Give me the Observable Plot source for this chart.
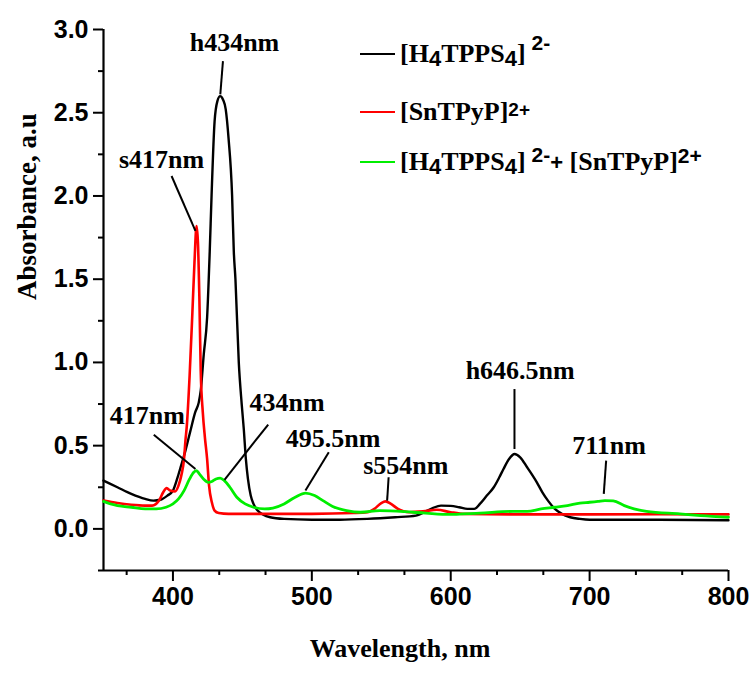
<!DOCTYPE html>
<html>
<head>
<meta charset="utf-8">
<script src="https://cdn.jsdelivr.net/npm/d3@7"></script>
<script src="https://cdn.jsdelivr.net/npm/@observablehq/plot@0.6"></script>
<style>
  html, body { margin: 0; padding: 0; background: #fff; }
  #chart { width: 753px; height: 675px; }
</style>
</head>
<body>
<div id="chart"></div>
<script>
// ---- Data ----
const seriesNames = ["[H4TPPS4]2-", "[SnTPyP]2+", "[H4TPPS4]2- + [SnTPyP]2+"];
const seriesColors = ["#000000", "#ff0000", "#00ee00"];

// [H4TPPS4]2-  (wavelength nm, absorbance)
const blackWl = [350,360,370,380,386,391,396,400,403,405.5,409,412.6,416,418.6,420,422.2,424.6,426.5,427.8,430,432,434,436,438,440,442.6,443.8,445,447.4,449.5,451,452.5,454,456,458,461,465,470,480,500,520,540,560,575,581,587,593,600,606,612,617,621,626,631,635,638,642,646,650,655,659,662,666,670,675,680,686,693,700,720,750,800];
const blackA  = [0.29,0.25,0.21,0.18,0.17,0.175,0.20,0.23,0.30,0.37,0.47,0.59,0.70,0.76,0.83,1.05,1.27,1.67,2.00,2.45,2.57,2.60,2.58,2.52,2.35,2.00,1.67,1.50,1.00,0.75,0.60,0.42,0.30,0.20,0.15,0.11,0.085,0.07,0.06,0.055,0.055,0.06,0.07,0.08,0.10,0.125,0.14,0.138,0.13,0.12,0.12,0.15,0.20,0.25,0.31,0.36,0.42,0.45,0.43,0.37,0.32,0.28,0.22,0.17,0.12,0.09,0.07,0.06,0.055,0.055,0.055,0.052];

// [SnTPyP]2+
const redWl = [350,360,370,380,385,390,393,395.5,398,401.5,404,406,408,409,410,412,414,415.5,417,418,419,420,421.5,423,424.6,426,428,430,433,440,460,500,530,540,545,550,553,557,562,570,580,590,600,610,650,700,750,800];
const redA  = [0.17,0.155,0.145,0.14,0.14,0.17,0.22,0.245,0.23,0.225,0.26,0.32,0.42,0.53,0.62,0.92,1.30,1.60,1.82,1.72,1.40,0.95,0.70,0.55,0.42,0.26,0.16,0.11,0.095,0.09,0.09,0.09,0.095,0.10,0.12,0.155,0.165,0.15,0.12,0.10,0.105,0.115,0.10,0.09,0.087,0.087,0.088,0.087];

// [H4TPPS4]2- + [SnTPyP]2+
const greenWl = [350,355,360,370,380,388,395,400,404,408,412,415,417,419,422,425.5,428,431,434,437,441,446,452,458,466,472,480,488,495.5,502,508,515,525,535,549,573,597,621,645,655,665,675,684,693,700,706,711,717,725,732,741,765,780,800];
const greenA  = [0.165,0.15,0.14,0.13,0.12,0.12,0.13,0.15,0.18,0.23,0.30,0.34,0.35,0.33,0.30,0.28,0.285,0.30,0.305,0.29,0.25,0.19,0.15,0.13,0.12,0.125,0.15,0.19,0.215,0.20,0.17,0.135,0.11,0.10,0.11,0.10,0.087,0.095,0.105,0.105,0.12,0.13,0.14,0.155,0.16,0.165,0.17,0.168,0.14,0.12,0.105,0.09,0.08,0.07];

// Peak annotations: label, text centre (wavelength, absorbance at baseline), leader from -> to
const annLabels = ["h434nm","s417nm","417nm","434nm","495.5nm","s554nm","h646.5nm","711nm"];
const annX      = [444.3, 391.8, 381.5, 482.2, 515.3, 567.7, 650.0, 714.0];
const annY      = [2.87, 2.165, 0.63, 0.71, 0.49, 0.331, 0.90, 0.45];
const leadX1    = [436.0, 399.0, 386.2, 468.6, 512.2, 555.3, 645.9, 711.9];
const leadY1    = [2.81, 2.12, 0.565, 0.627, 0.46, 0.31, 0.84, 0.41];
const leadX2    = [434.1, 416.2, 416.2, 437.1, 495.4, 554.2, 645.9, 710.2];
const leadY2    = [2.61, 1.79, 0.36, 0.295, 0.23, 0.17, 0.48, 0.21];

// Axis ticks
const xMajor = [400, 500, 600, 700, 800];
const xMinor = xMajor.flatMap(m => [m - 200/3, m - 100/3]).filter(v => v > 350);
const yMajor = [0.0, 0.5, 1.0, 1.5, 2.0, 2.5, 3.0];
const yMinor = [-0.25, 0.25, 0.75, 1.25, 1.75, 2.25, 2.75];
const xTitle = "Wavelength, nm";
const yTitle = "Absorbance, a.u";

// ---- Build tables ----
const toRows = (wl, a, s) => wl.map((w, i) => ({wl: w, a: a[i], s}));
const black = toRows(blackWl, blackA, 0);
const red = toRows(redWl, redA, 1);
const green = toRows(greenWl, greenA, 2);
const ann = annLabels.map((t, i) => ({t, x: annX[i], y: annY[i], x1: leadX1[i], y1: leadY1[i], x2: leadX2[i], y2: leadY2[i]}));

const SANS = "'Liberation Sans', Arial, Helvetica, sans-serif";
const SERIF = "'Liberation Serif', 'Times New Roman', Times, serif";

const chart = Plot.plot({
  width: 753,
  height: 675,
  marginLeft: 103,
  marginRight: 25,
  marginTop: 29,
  marginBottom: 105,
  x: {domain: [350, 800]},
  y: {domain: [-0.25, 3.0]},
  style: {fontFamily: SANS, fontWeight: "bold", fontSize: "25px", background: "#fff", color: "#000", overflow: "visible"},
  marks: [
    Plot.axisY(yMinor, {tickSize: 5, tickFormat: () => "", strokeWidth: 2, label: null}),
    Plot.axisY(yMajor, {tickSize: 10, tickPadding: 5, tickFormat: d3.format(".1f"), strokeWidth: 2, fontSize: 25, label: null}),
    Plot.axisX(xMinor, {tickSize: 5, tickFormat: () => "", strokeWidth: 2, label: null}),
    Plot.axisX(xMajor, {tickSize: 11, tickPadding: 6, strokeWidth: 2, fontSize: 25, label: null}),
    Plot.ruleX([350], {strokeWidth: 2.2}),
    Plot.ruleY([-0.25], {strokeWidth: 2.2}),
    Plot.line(black, {x: "wl", y: "a", stroke: seriesColors[0], strokeWidth: 2.4, curve: "monotone-x"}),
    Plot.line(red, {x: "wl", y: "a", stroke: seriesColors[1], strokeWidth: 2.6, curve: "monotone-x"}),
    Plot.line(green, {x: "wl", y: "a", stroke: seriesColors[2], strokeWidth: 2.8, curve: "monotone-x"}),
    Plot.link(ann, {x1: "x1", y1: "y1", x2: "x2", y2: "y2", stroke: "#000", strokeWidth: 2}),
    Plot.text(ann, {x: "x", y: "y", text: "t", fontFamily: SERIF, fontWeight: "bold", fontSize: 26, lineAnchor: "bottom", fill: "#000"}),
    Plot.text([yTitle], {text: d => d, frameAnchor: "left", rotate: -90, dx: -76, fontFamily: SERIF, fontWeight: "bold", fontSize: 27, fill: "#000"}),
    Plot.text([xTitle], {text: d => d, frameAnchor: "bottom", dy: 86, dx: -16, fontFamily: SERIF, fontWeight: "bold", fontSize: 26, fill: "#000"})
  ]
});
document.getElementById("chart").appendChild(chart);

// ---- Legend (inside the plot area, top right) ----
const svg = d3.select(chart);
const lg = svg.append("g").attr("class", "legend").attr("text-anchor", "start");
const rows = [
  {y: 62, parts: [["[H", "serif", 0], ["4", "sub", 0], ["TPPS", "serif", 0], ["4", "sub", 0], ["]", "serif", 0], ["\u00a02-", "sup", -12]]},
  {y: 120, parts: [["[SnTPyP]", "serif", 0], ["2+", "sup2", -4]]},
  {y: 170, parts: [["[H", "serif", 0], ["4", "sub", 0], ["TPPS", "serif", 0], ["4", "sub", 0], ["]", "serif", 0], ["\u00a02-", "sup", -8], ["+", "plus", 0], ["\u00a0[SnTPyP]", "serif", 0], ["2+", "sup", -7]]}
];
rows.forEach((r, i) => {
  lg.append("line").attr("x1", 360).attr("x2", 395).attr("y1", r.y - 8).attr("y2", r.y - 8)
    .attr("stroke", seriesColors[i]).attr("stroke-width", 2.2);
  const t = lg.append("text").attr("x", 400).attr("y", r.y).attr("fill", "#000")
    .attr("font-weight", "bold").attr("text-anchor", "start");
  let cur = 0;
  r.parts.forEach(([s, kind, off]) => {
    let target = 0, fam = SERIF, size = 26;
    if (kind === "sub") { target = 4; fam = SANS; size = 22; }
    else if (kind === "sup") { target = off; fam = SANS; size = 21; }
    else if (kind === "sup2") { target = off; fam = SANS; size = 19; }
    else if (kind === "plus") { target = 0; fam = SANS; size = 22; }
    t.append("tspan").attr("dy", target - cur).attr("font-family", fam).attr("font-size", size).text(s);
    cur = target;
  });
});
</script>
</body>
</html>
